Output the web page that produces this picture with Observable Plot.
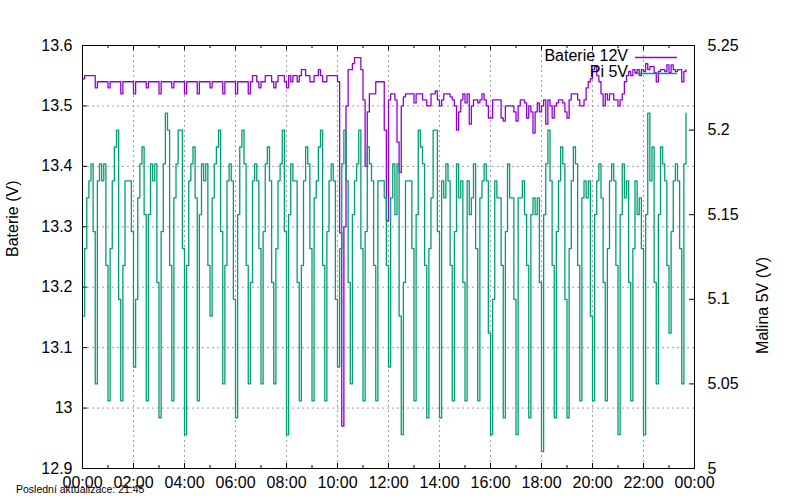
<!DOCTYPE html>
<html><head><meta charset="utf-8">
<script src="https://cdn.jsdelivr.net/npm/d3@7"></script>
<script src="https://cdn.jsdelivr.net/npm/@observablehq/plot@0.6"></script>
<style>
body{margin:0;background:#fff;}
#wrap{position:relative;width:800px;height:500px;font-family:"Liberation Sans",Arial,sans-serif;color:#000;overflow:hidden;background:#fff}
#wrap svg{position:absolute;left:0;top:0}
.abs{position:absolute;white-space:nowrap}
</style></head><body>
<div id="wrap">
  <div id="title" class="abs" style="left:0;top:12px;width:800px;text-align:center;font-size:16px;line-height:16px"></div>
</div>
<script>
const titleText = "Napětí ve skleníku - 24h";
const leftLabel = "Baterie (V)";
const rightLabel = "Malina 5V (V)";
const captionText = "Poslední aktualizace: 21:45";
const seriesNames = ["Baterie 12V", "Pi 5V"];
const seriesColors = ["#9400d3", "#009e73"];

const xTicks = [0, 2, 4, 6, 8, 10, 12, 14, 16, 18, 20, 22, 24];
const xTickLabels = ["00:00","02:00","04:00","06:00","08:00","10:00","12:00","14:00","16:00","18:00","20:00","22:00","00:00"];
const xMinorTicks = [1, 3, 5, 7, 9, 11, 13, 15, 17, 19, 21, 23];
const xGrid = [2, 4, 6, 8, 10, 12, 14, 16, 18, 20, 22];

const leftTicks = [12.9, 13.0, 13.1, 13.2, 13.3, 13.4, 13.5, 13.6];
const leftTickLabels = ["12.9","13","13.1","13.2","13.3","13.4","13.5","13.6"];
const leftGrid = [13.0, 13.1, 13.2, 13.3, 13.4, 13.5];

const rightTicks = [5.0, 5.05, 5.1, 5.15, 5.2, 5.25];
const rightTickLabels = ["5","5.05","5.1","5.15","5.2","5.25"];

const sampleStepMinutes = 5;

// Baterie 12V (left axis), one reading every 5 minutes from 00:00
const baterie = [
13.545,13.55,13.55,13.55,13.55,13.55,13.53,13.54,13.54,13.54,13.54,13.54,
13.53,13.54,13.54,13.54,13.54,13.54,13.52,13.54,13.54,13.54,13.54,13.54,
13.52,13.54,13.54,13.54,13.54,13.54,13.53,13.54,13.54,13.54,13.54,13.54,
13.52,13.54,13.54,13.54,13.54,13.54,13.53,13.54,13.54,13.54,13.54,13.54,
13.52,13.54,13.54,13.54,13.54,13.54,13.52,13.54,13.54,13.54,13.54,13.54,
13.53,13.54,13.54,13.54,13.54,13.54,13.52,13.54,13.54,13.54,13.54,13.54,
13.52,13.54,13.54,13.54,13.54,13.54,13.52,13.54,13.55,13.55,13.54,13.53,
13.54,13.54,13.55,13.55,13.55,13.54,13.53,13.54,13.55,13.55,13.55,13.54,
13.53,13.55,13.54,13.55,13.55,13.54,13.55,13.56,13.56,13.55,13.55,13.54,
13.54,13.55,13.55,13.56,13.55,13.54,13.54,13.55,13.55,13.55,13.55,13.55,
13.54,13.29,12.97,13.30,13.50,13.56,13.56,13.57,13.58,13.58,13.58,13.56,
13.51,13.40,13.49,13.52,13.52,13.52,13.54,13.54,13.54,13.54,13.46,13.31,
13.51,13.52,13.52,13.51,13.44,13.39,13.50,13.515,13.52,13.52,13.52,13.52,
13.505,13.52,13.52,13.52,13.51,13.51,13.50,13.50,13.52,13.52,13.525,13.51,
13.50,13.51,13.52,13.52,13.52,13.515,13.51,13.50,13.46,13.49,13.51,13.52,
13.505,13.52,13.47,13.50,13.51,13.51,13.505,13.51,13.52,13.51,13.50,13.48,
13.48,13.51,13.51,13.51,13.51,13.48,13.475,13.50,13.50,13.50,13.50,13.49,
13.475,13.50,13.51,13.51,13.505,13.48,13.50,13.49,13.455,13.49,13.505,13.49,
13.50,13.51,13.47,13.51,13.50,13.48,13.50,13.505,13.51,13.51,13.505,13.49,
13.48,13.51,13.52,13.52,13.52,13.51,13.50,13.50,13.51,13.53,13.54,13.545,
13.56,13.565,13.55,13.54,13.52,13.50,13.52,13.51,13.52,13.52,13.51,13.51,
13.50,13.51,13.52,13.54,13.55,13.557,13.55,13.56,13.555,13.56,13.55,13.56,
13.557,13.57,13.56,13.565,13.565,13.555,13.54,13.557,13.56,13.56,13.557,13.568,
13.555,13.568,13.56,13.557,13.56,13.56,13.54,13.557,13.56
];

// Pi 5V (right axis), same timestamps
const pi5v = [
5.09,5.13,5.16,5.17,5.18,5.14,5.05,
5.17,5.18,5.17,5.18,5.12,5.04,
5.13,5.17,5.19,5.20,5.10,5.04,
5.12,5.17,5.17,5.17,5.14,5.06,
5.10,5.16,5.18,5.19,5.15,5.04,
5.15,5.18,5.17,5.18,5.11,5.03,
5.14,5.18,5.21,5.20,5.12,5.04,
5.16,5.18,5.20,5.20,5.13,5.02,
5.12,5.17,5.18,5.19,5.16,5.04,
5.15,5.18,5.17,5.18,5.12,5.09,
5.16,5.18,5.19,5.20,5.14,5.05,
5.12,5.17,5.18,5.17,5.10,5.03,
5.15,5.19,5.20,5.18,5.12,5.05,
5.11,5.17,5.18,5.17,5.13,5.05,
5.14,5.18,5.19,5.17,5.11,5.05,
5.13,5.17,5.18,5.20,5.14,5.02,
5.15,5.18,5.17,5.17,5.11,5.04,
5.12,5.17,5.19,5.18,5.13,5.04,
5.16,5.17,5.19,5.20,5.12,5.04,
5.14,5.17,5.18,5.17,5.10,5.06,
5.13,5.18,5.20,5.17,5.11,5.05,
5.15,5.17,5.18,5.20,5.13,5.04,
5.14,5.19,5.18,5.17,5.12,5.04,
5.17,5.17,5.17,5.16,5.12,5.06,
5.16,5.18,5.15,5.18,5.09,5.02,
5.11,5.17,5.17,5.17,5.13,5.04,
5.15,5.20,5.19,5.18,5.12,5.03,
5.13,5.16,5.20,5.20,5.14,5.03,
5.17,5.16,5.18,5.17,5.12,5.04,
5.14,5.18,5.16,5.17,5.11,5.04,
5.17,5.15,5.16,5.18,5.13,5.04,
5.16,5.17,5.18,5.17,5.08,5.02,
5.10,5.17,5.16,5.16,5.12,5.03,
5.14,5.18,5.16,5.16,5.10,5.02,
5.16,5.16,5.17,5.15,5.12,5.03,
5.15,5.16,5.15,5.16,5.11,5.01,
5.15,5.18,5.20,5.17,5.12,5.03,
5.14,5.17,5.19,5.18,5.10,5.03,
5.13,5.17,5.19,5.18,5.12,5.04,
5.16,5.17,5.16,5.17,5.09,5.04,
5.15,5.17,5.18,5.16,5.11,5.04,
5.13,5.17,5.18,5.17,5.12,5.02,
5.15,5.18,5.16,5.17,5.11,5.04,
5.13,5.17,5.15,5.16,5.13,5.02,
5.15,5.21,5.17,5.19,5.11,5.05,
5.15,5.19,5.18,5.17,5.12,5.08,
5.14,5.17,5.18,5.17,5.13,5.05,
5.18,5.21
];

const batRows = baterie.map((v, i) => ({h: i * sampleStepMinutes / 60, v}));
const piRows = pi5v.map((v, i) => ({h: i * sampleStepMinutes / 60, v}));

const W = 800, H = 500;
const mT = 45, mB = 32, mL = 82, mR = 106;
const frameW = W - mL - mR, frameH = H - mT - mB;
const font = "'Liberation Sans', Arial, sans-serif";
const gridStyle = {stroke: "#a0a0a0", strokeOpacity: 1, strokeWidth: 1, strokeDasharray: "2,3"};

const plot1 = Plot.plot({
  width: W, height: H, marginTop: mT, marginBottom: mB, marginLeft: mL, marginRight: mR,
  style: {fontFamily: font, fontSize: "16px", background: "white", color: "black"},
  x: {domain: [0, 24]},
  y: {domain: [12.9, 13.6]},
  marks: [
    Plot.gridX(xGrid, gridStyle),
    Plot.gridY(leftGrid, gridStyle),
    Plot.line(batRows, {x: "h", y: "v", curve: "step-after", stroke: seriesColors[0], strokeWidth: 1.3}),
    Plot.axisY(leftTicks, {anchor: "left", tickSize: 0, tickPadding: 10, label: null,
      tickFormat: d => leftTickLabels[leftTicks.indexOf(d)], fontSize: 16}),
    Plot.axisX(xTicks, {anchor: "bottom", tickSize: 0, tickPadding: 8, label: null,
      tickFormat: d => xTickLabels[xTicks.indexOf(d)], fontSize: 16}),
    Plot.tickY(leftTicks, {y: d => d, insetRight: frameW - 5, stroke: "black"}),
    Plot.tickX(xTicks, {x: d => d, insetTop: frameH - 5, stroke: "black"}),
    Plot.tickX(xTicks, {x: d => d, insetBottom: frameH - 5, stroke: "black"}),
    Plot.tickX(xMinorTicks, {x: d => d, insetTop: frameH - 3, stroke: "black"}),
    Plot.tickX(xMinorTicks, {x: d => d, insetBottom: frameH - 3, stroke: "black"}),
    Plot.text([leftLabel], {text: d => d, frameAnchor: "left", dx: -70, rotate: -90, fontSize: 16, fill: "black"})
  ]
});

const plot2 = Plot.plot({
  width: W, height: H, marginTop: mT, marginBottom: mB, marginLeft: mL, marginRight: mR,
  style: {fontFamily: font, fontSize: "16px", background: "transparent", color: "black"},
  x: {domain: [0, 24], axis: null},
  y: {domain: [5.0, 5.25]},
  marks: [
    Plot.line(piRows, {x: "h", y: "v", curve: "step-after", stroke: seriesColors[1], strokeWidth: 1.3}),
    Plot.axisY(rightTicks, {anchor: "right", tickSize: 0, tickPadding: 13, label: null,
      tickFormat: d => rightTickLabels[rightTicks.indexOf(d)], fontSize: 16}),
    Plot.tickY(rightTicks, {y: d => d, insetLeft: frameW - 5, stroke: "black"}),
    Plot.text([rightLabel], {text: d => d, frameAnchor: "right", dx: 68, rotate: -90, fontSize: 16, fill: "black"}),
    Plot.frame({stroke: "black", strokeWidth: 1})
  ]
});

const wrap = document.getElementById("wrap");
wrap.appendChild(plot1);
wrap.appendChild(plot2);
document.getElementById("title").textContent = titleText;

// legend: texts as HTML, swatches in a small svg
const legendTops = [48, 64];
seriesNames.forEach((name, i) => {
  const t = document.createElement("div");
  t.className = "abs";
  t.style.cssText = `left:0;width:628px;text-align:right;top:${legendTops[i]}px;font-size:16px;line-height:16px`;
  t.textContent = name;
  wrap.appendChild(t);
});
const sw = d3.create("svg")
  .attr("width", 50).attr("height", 30)
  .style("position", "absolute").style("left", "632px").style("top", "50px");
seriesNames.forEach((name, i) => {
  sw.append("line")
    .attr("x1", 3).attr("x2", 45)
    .attr("y1", 7.5 + i * 16).attr("y2", 7.5 + i * 16)
    .attr("stroke", seriesColors[i]).attr("stroke-width", 1.3);
});
wrap.appendChild(sw.node());

const cap = document.createElement("div");
cap.className = "abs";
cap.style.cssText = "left:16px;top:483px;font-size:10.5px;line-height:12px";
cap.textContent = captionText;
wrap.appendChild(cap);
</script>
</body></html>
